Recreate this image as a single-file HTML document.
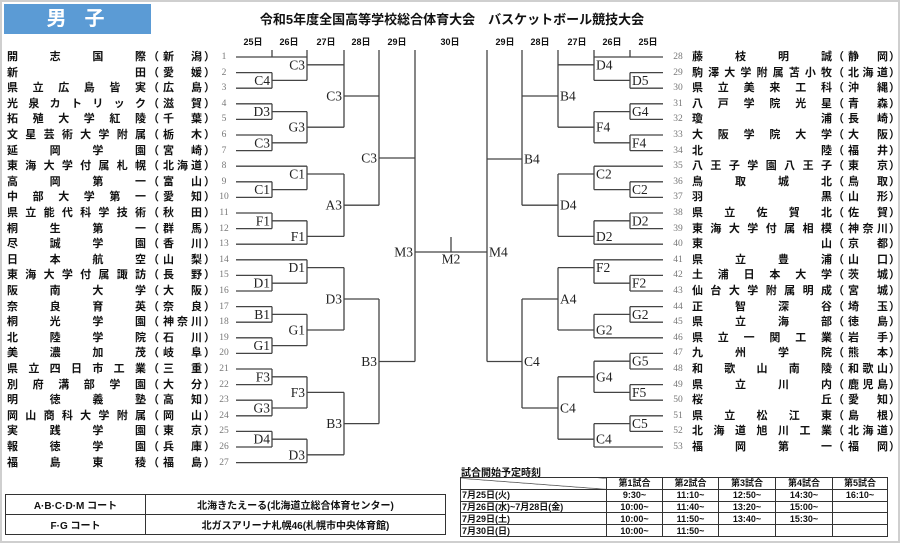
<!DOCTYPE html>
<html><head><meta charset="utf-8"><style>
*{margin:0;padding:0;box-sizing:border-box}
body{width:900px;height:543px;position:relative;background:#fff;overflow:hidden;font-family:"Liberation Sans","Noto Sans CJK JP",sans-serif;color:#111}
.frame{position:absolute;left:0;top:0;width:900px;height:543px;border:2px solid #cfcfcf}
.hd{position:absolute;left:4px;top:4px;width:147px;height:30px;background:#5b9bd5;color:#fff;font-weight:bold;font-size:20px;line-height:30px;text-align:center;letter-spacing:18px;padding-left:14px}
.title{position:absolute;left:252px;top:9px;width:400px;text-align:center;font-weight:bold;font-size:13px}
.d{position:absolute;top:35px;font-size:9px;font-weight:bold;width:30px;text-align:center;margin-left:-15px}
.r{position:absolute;height:14px;line-height:14px;font-size:11px;font-weight:bold;width:240px}
.r span{position:absolute;top:0;white-space:nowrap}
.n{text-align:justify;text-align-last:justify}
.L .n{left:7px;width:139px}.L .o{left:148px}.L .p{left:163px;width:39px}.L .c{left:204px}
.L .num{left:210px;width:28px}
.R .n{left:52px;width:140px}.R .o{left:193px}.R .p{left:208px;width:40px}.R .c{left:249px}
.R .num{left:24px;width:28px}
.num{font-family:"Liberation Serif",serif;font-weight:normal!important;font-size:9.5px;color:#777;text-align:center}
table{border-collapse:collapse;position:absolute}
td{border:1px solid #333;font-weight:bold}
.ct td{height:20px;font-size:10px;text-align:center}
.st td{height:11.8px;font-size:9px;text-align:center;line-height:10px;padding:0}
.st td.f{text-align:left;padding-left:1px}
</style></head><body>
<div class="frame"></div>
<div class="hd">男子</div>
<div class="title">令和5年度全国高等学校総合体育大会　バスケットボール競技大会</div>
<div class="d" style="left:253px">25日</div><div class="d" style="left:289px">26日</div><div class="d" style="left:326px">27日</div><div class="d" style="left:361px">28日</div><div class="d" style="left:397px">29日</div><div class="d" style="left:450px">30日</div>
<div class="d" style="left:505px">29日</div><div class="d" style="left:540px">28日</div><div class="d" style="left:577px">27日</div><div class="d" style="left:612px">26日</div><div class="d" style="left:648px">25日</div>

<svg style="position:absolute;left:0;top:0" width="900" height="543">
<g stroke="#444" stroke-width="1.3" fill="none">
<path d="M236 57H307M236 72.6H272M236 88.2H272M236 103.8H272M236 119.4H272M236 135H272M236 150.6H272M236 166.2H307M236 181.8H272M236 197.4H272M236 213H272M236 228.6H272M236 244.2H307M236 259.8H307M236 275.4H272M236 291H272M236 306.6H272M236 322.2H272M236 337.8H272M236 353.4H272M236 369H272M236 384.6H272M236 400.2H272M236 415.8H272M236 431.4H272M236 447H272M236 462.6H307"/>
<path d="M272 50V57M272 72.6V88.2M272 103.8V119.4M272 135V150.6M272 181.8V197.4M272 213V228.6M272 275.4V291M272 306.6V322.2M272 337.8V353.4M272 369V384.6M272 400.2V415.8M272 431.4V447"/>
<path d="M272 80.4H307M272 111.6H307M272 142.8H307M272 189.6H307M272 220.8H307M272 283.2H307M272 314.4H307M272 345.6H307M272 376.8H307M272 408H307M272 439.2H307"/>
<path d="M307 50V80.4M307 111.6V142.8M307 166.2V189.6M307 220.8V244.2M307 259.8V283.2M307 314.4V345.6M307 376.8V408M307 439.2V462.6"/>
<path d="M307 64.8H344M307 127.2H344M307 174H344M307 236.4H344M307 267.6H344M307 330H344M307 392.4H344M307 454.8H344"/>
<path d="M344 50V127.2M344 174V236.4M344 267.6V330M344 392.4V454.8"/>
<path d="M344 96H379M344 205.2H379M344 299H379M344 423.6H379"/>
<path d="M379 50V205.2M379 299V423.6M379 158H415M379 361.5H415M415 50V361.5"/>
<path d="M415 252H487M451 237V252"/>
<path d="M594 57H663M630 72.6H663M630 88.2H663M630 103.8H663M630 119.4H663M630 135H663M630 150.6H663M594 166.2H663M630 181.8H663M630 197.4H663M630 213H663M630 228.6H663M594 244.2H663M594 259.8H663M630 275.4H663M630 291H663M630 306.6H663M630 322.2H663M594 337.8H663M630 353.4H663M630 369H663M630 384.6H663M630 400.2H663M630 415.8H663M630 431.4H663M594 447H663"/>
<path d="M630 50V57M630 72.6V88.2M630 103.8V119.4M630 135V150.6M630 181.8V197.4M630 213V228.6M630 275.4V291M630 306.6V322.2M630 353.4V369M630 384.6V400.2M630 415.8V431.4"/>
<path d="M594 80.4H630M594 111.6H630M594 142.8H630M594 189.6H630M594 220.8H630M594 283.2H630M594 314.4H630M594 361.2H630M594 392.4H630M594 423.6H630"/>
<path d="M594 50V80.4M594 111.6V142.8M594 166.2V189.6M594 220.8V244.2M594 259.8V283.2M594 314.4V337.8M594 361.2V392.4M594 423.6V447"/>
<path d="M558 64.8H594M558 127.2H594M558 174H594M558 236.4H594M558 267.6H594M558 330H594M558 376.8H594M558 439.2H594"/>
<path d="M558 50V127.2M558 174V236.4M558 267.6V330M558 376.8V439.2"/>
<path d="M522 96H558M522 205.2H558M522 299H558M522 408H558"/>
<path d="M522 50V205.2M522 299V408M487 159H522M487 361.5H522M487 50V361.5"/>
</g>
<g font-family="Liberation Serif,serif" font-size="13.5" fill="#222" dominant-baseline="central" text-anchor="end">
<text x="270" y="80.4">C4</text><text x="270" y="111.6">D3</text><text x="270" y="142.8">C3</text><text x="270" y="189.6">C1</text><text x="270" y="220.8">F1</text><text x="270" y="283.2">D1</text><text x="270" y="314.4">B1</text><text x="270" y="345.6">G1</text><text x="270" y="376.8">F3</text><text x="270" y="408">G3</text><text x="270" y="439.2">D4</text>
<text x="305" y="64.8">C3</text><text x="305" y="127.2">G3</text><text x="305" y="174">C1</text><text x="305" y="236.4">F1</text><text x="305" y="267.6">D1</text><text x="305" y="330">G1</text><text x="305" y="392.4">F3</text><text x="305" y="454.8">D3</text>
<text x="342" y="96">C3</text><text x="342" y="205.2">A3</text><text x="342" y="299">D3</text><text x="342" y="423.6">B3</text>
<text x="377" y="158">C3</text><text x="377" y="361.5">B3</text>
<text x="413" y="252">M3</text>
<text x="451" y="259" text-anchor="middle">M2</text>
</g>
<g font-family="Liberation Serif,serif" font-size="13.5" fill="#222" dominant-baseline="central" text-anchor="start">
<text x="632" y="80.4">D5</text><text x="632" y="111.6">G4</text><text x="632" y="142.8">F4</text><text x="632" y="189.6">C2</text><text x="632" y="220.8">D2</text><text x="632" y="283.2">F2</text><text x="632" y="314.4">G2</text><text x="632" y="361.2">G5</text><text x="632" y="392.4">F5</text><text x="632" y="423.6">C5</text>
<text x="596" y="64.8">D4</text><text x="596" y="127.2">F4</text><text x="596" y="174">C2</text><text x="596" y="236.4">D2</text><text x="596" y="267.6">F2</text><text x="596" y="330">G2</text><text x="596" y="376.8">G4</text><text x="596" y="439.2">C4</text>
<text x="560" y="96">B4</text><text x="560" y="205.2">D4</text><text x="560" y="299">A4</text><text x="560" y="408">C4</text>
<text x="524" y="159">B4</text><text x="524" y="361.5">C4</text>
<text x="489" y="252">M4</text>
</g>
</svg>

<div class="r L" style="left:0;top:50px"><span class="n">開志国際</span><span class="o">（</span><span class="p n">新潟</span><span class="c">）</span><span class="num">1</span></div>
<div class="r L" style="left:0;top:65.6px"><span class="n">新田</span><span class="o">（</span><span class="p n">愛媛</span><span class="c">）</span><span class="num">2</span></div>
<div class="r L" style="left:0;top:81.2px"><span class="n">県立広島皆実</span><span class="o">（</span><span class="p n">広島</span><span class="c">）</span><span class="num">3</span></div>
<div class="r L" style="left:0;top:96.8px"><span class="n">光泉カトリック</span><span class="o">（</span><span class="p n">滋賀</span><span class="c">）</span><span class="num">4</span></div>
<div class="r L" style="left:0;top:112.4px"><span class="n">拓殖大学紅陵</span><span class="o">（</span><span class="p n">千葉</span><span class="c">）</span><span class="num">5</span></div>
<div class="r L" style="left:0;top:128px"><span class="n">文星芸術大学附属</span><span class="o">（</span><span class="p n">栃木</span><span class="c">）</span><span class="num">6</span></div>
<div class="r L" style="left:0;top:143.6px"><span class="n">延岡学園</span><span class="o">（</span><span class="p n">宮崎</span><span class="c">）</span><span class="num">7</span></div>
<div class="r L" style="left:0;top:159.2px"><span class="n">東海大学付属札幌</span><span class="o">（</span><span class="p n">北海道</span><span class="c">）</span><span class="num">8</span></div>
<div class="r L" style="left:0;top:174.8px"><span class="n">高岡第一</span><span class="o">（</span><span class="p n">富山</span><span class="c">）</span><span class="num">9</span></div>
<div class="r L" style="left:0;top:190.4px"><span class="n">中部大学第一</span><span class="o">（</span><span class="p n">愛知</span><span class="c">）</span><span class="num">10</span></div>
<div class="r L" style="left:0;top:206px"><span class="n">県立能代科学技術</span><span class="o">（</span><span class="p n">秋田</span><span class="c">）</span><span class="num">11</span></div>
<div class="r L" style="left:0;top:221.6px"><span class="n">桐生第一</span><span class="o">（</span><span class="p n">群馬</span><span class="c">）</span><span class="num">12</span></div>
<div class="r L" style="left:0;top:237.2px"><span class="n">尽誠学園</span><span class="o">（</span><span class="p n">香川</span><span class="c">）</span><span class="num">13</span></div>
<div class="r L" style="left:0;top:252.8px"><span class="n">日本航空</span><span class="o">（</span><span class="p n">山梨</span><span class="c">）</span><span class="num">14</span></div>
<div class="r L" style="left:0;top:268.4px"><span class="n">東海大学付属諏訪</span><span class="o">（</span><span class="p n">長野</span><span class="c">）</span><span class="num">15</span></div>
<div class="r L" style="left:0;top:284px"><span class="n">阪南大学</span><span class="o">（</span><span class="p n">大阪</span><span class="c">）</span><span class="num">16</span></div>
<div class="r L" style="left:0;top:299.6px"><span class="n">奈良育英</span><span class="o">（</span><span class="p n">奈良</span><span class="c">）</span><span class="num">17</span></div>
<div class="r L" style="left:0;top:315.2px"><span class="n">桐光学園</span><span class="o">（</span><span class="p n">神奈川</span><span class="c">）</span><span class="num">18</span></div>
<div class="r L" style="left:0;top:330.8px"><span class="n">北陸学院</span><span class="o">（</span><span class="p n">石川</span><span class="c">）</span><span class="num">19</span></div>
<div class="r L" style="left:0;top:346.4px"><span class="n">美濃加茂</span><span class="o">（</span><span class="p n">岐阜</span><span class="c">）</span><span class="num">20</span></div>
<div class="r L" style="left:0;top:362px"><span class="n">県立四日市工業</span><span class="o">（</span><span class="p n">三重</span><span class="c">）</span><span class="num">21</span></div>
<div class="r L" style="left:0;top:377.6px"><span class="n">別府溝部学園</span><span class="o">（</span><span class="p n">大分</span><span class="c">）</span><span class="num">22</span></div>
<div class="r L" style="left:0;top:393.2px"><span class="n">明徳義塾</span><span class="o">（</span><span class="p n">高知</span><span class="c">）</span><span class="num">23</span></div>
<div class="r L" style="left:0;top:408.8px"><span class="n">岡山商科大学附属</span><span class="o">（</span><span class="p n">岡山</span><span class="c">）</span><span class="num">24</span></div>
<div class="r L" style="left:0;top:424.4px"><span class="n">実践学園</span><span class="o">（</span><span class="p n">東京</span><span class="c">）</span><span class="num">25</span></div>
<div class="r L" style="left:0;top:440px"><span class="n">報徳学園</span><span class="o">（</span><span class="p n">兵庫</span><span class="c">）</span><span class="num">26</span></div>
<div class="r L" style="left:0;top:455.6px"><span class="n">福島東稜</span><span class="o">（</span><span class="p n">福島</span><span class="c">）</span><span class="num">27</span></div>

<div class="r R" style="left:640px;top:50px"><span class="num">28</span><span class="n">藤枝明誠</span><span class="o">（</span><span class="p n">静岡</span><span class="c">）</span></div>
<div class="r R" style="left:640px;top:65.6px"><span class="num">29</span><span class="n">駒澤大学附属苫小牧</span><span class="o">（</span><span class="p n">北海道</span><span class="c">）</span></div>
<div class="r R" style="left:640px;top:81.2px"><span class="num">30</span><span class="n">県立美来工科</span><span class="o">（</span><span class="p n">沖縄</span><span class="c">）</span></div>
<div class="r R" style="left:640px;top:96.8px"><span class="num">31</span><span class="n">八戸学院光星</span><span class="o">（</span><span class="p n">青森</span><span class="c">）</span></div>
<div class="r R" style="left:640px;top:112.4px"><span class="num">32</span><span class="n">瓊浦</span><span class="o">（</span><span class="p n">長崎</span><span class="c">）</span></div>
<div class="r R" style="left:640px;top:128px"><span class="num">33</span><span class="n">大阪学院大学</span><span class="o">（</span><span class="p n">大阪</span><span class="c">）</span></div>
<div class="r R" style="left:640px;top:143.6px"><span class="num">34</span><span class="n">北陸</span><span class="o">（</span><span class="p n">福井</span><span class="c">）</span></div>
<div class="r R" style="left:640px;top:159.2px"><span class="num">35</span><span class="n">八王子学園八王子</span><span class="o">（</span><span class="p n">東京</span><span class="c">）</span></div>
<div class="r R" style="left:640px;top:174.8px"><span class="num">36</span><span class="n">鳥取城北</span><span class="o">（</span><span class="p n">鳥取</span><span class="c">）</span></div>
<div class="r R" style="left:640px;top:190.4px"><span class="num">37</span><span class="n">羽黒</span><span class="o">（</span><span class="p n">山形</span><span class="c">）</span></div>
<div class="r R" style="left:640px;top:206px"><span class="num">38</span><span class="n">県立佐賀北</span><span class="o">（</span><span class="p n">佐賀</span><span class="c">）</span></div>
<div class="r R" style="left:640px;top:221.6px"><span class="num">39</span><span class="n">東海大学付属相模</span><span class="o">（</span><span class="p n">神奈川</span><span class="c">）</span></div>
<div class="r R" style="left:640px;top:237.2px"><span class="num">40</span><span class="n">東山</span><span class="o">（</span><span class="p n">京都</span><span class="c">）</span></div>
<div class="r R" style="left:640px;top:252.8px"><span class="num">41</span><span class="n">県立豊浦</span><span class="o">（</span><span class="p n">山口</span><span class="c">）</span></div>
<div class="r R" style="left:640px;top:268.4px"><span class="num">42</span><span class="n">土浦日本大学</span><span class="o">（</span><span class="p n">茨城</span><span class="c">）</span></div>
<div class="r R" style="left:640px;top:284px"><span class="num">43</span><span class="n">仙台大学附属明成</span><span class="o">（</span><span class="p n">宮城</span><span class="c">）</span></div>
<div class="r R" style="left:640px;top:299.6px"><span class="num">44</span><span class="n">正智深谷</span><span class="o">（</span><span class="p n">埼玉</span><span class="c">）</span></div>
<div class="r R" style="left:640px;top:315.2px"><span class="num">45</span><span class="n">県立海部</span><span class="o">（</span><span class="p n">徳島</span><span class="c">）</span></div>
<div class="r R" style="left:640px;top:330.8px"><span class="num">46</span><span class="n">県立一関工業</span><span class="o">（</span><span class="p n">岩手</span><span class="c">）</span></div>
<div class="r R" style="left:640px;top:346.4px"><span class="num">47</span><span class="n">九州学院</span><span class="o">（</span><span class="p n">熊本</span><span class="c">）</span></div>
<div class="r R" style="left:640px;top:362px"><span class="num">48</span><span class="n">和歌山南陵</span><span class="o">（</span><span class="p n">和歌山</span><span class="c">）</span></div>
<div class="r R" style="left:640px;top:377.6px"><span class="num">49</span><span class="n">県立川内</span><span class="o">（</span><span class="p n">鹿児島</span><span class="c">）</span></div>
<div class="r R" style="left:640px;top:393.2px"><span class="num">50</span><span class="n">桜丘</span><span class="o">（</span><span class="p n">愛知</span><span class="c">）</span></div>
<div class="r R" style="left:640px;top:408.8px"><span class="num">51</span><span class="n">県立松江東</span><span class="o">（</span><span class="p n">島根</span><span class="c">）</span></div>
<div class="r R" style="left:640px;top:424.4px"><span class="num">52</span><span class="n">北海道旭川工業</span><span class="o">（</span><span class="p n">北海道</span><span class="c">）</span></div>
<div class="r R" style="left:640px;top:440px"><span class="num">53</span><span class="n">福岡第一</span><span class="o">（</span><span class="p n">福岡</span><span class="c">）</span></div>

<table class="ct" style="left:5px;top:494px;width:441px">
<tr><td style="width:140px">A·B·C·D·M コート</td><td>北海きたえーる(北海道立総合体育センター)</td></tr>
<tr><td>F·G コート</td><td>北ガスアリーナ札幌46(札幌市中央体育館)</td></tr>
</table>

<div style="position:absolute;left:461px;top:464px;font-size:10px;font-weight:bold;text-decoration:underline">試合開始予定時刻</div>
<table class="st" style="left:460px;top:477px;width:428px">
<tr><td class="f" style="width:146px;background:linear-gradient(to top right,transparent 48%,#333 50%,transparent 54%)"></td><td style="width:56px">第1試合</td><td style="width:56px">第2試合</td><td style="width:57px">第3試合</td><td style="width:57px">第4試合</td><td>第5試合</td></tr>
<tr><td class="f">7月25日(火)</td><td>9:30~</td><td>11:10~</td><td>12:50~</td><td>14:30~</td><td>16:10~</td></tr>
<tr><td class="f">7月26日(水)~7月28日(金)</td><td>10:00~</td><td>11:40~</td><td>13:20~</td><td>15:00~</td><td></td></tr>
<tr><td class="f">7月29日(土)</td><td>10:00~</td><td>11:50~</td><td>13:40~</td><td>15:30~</td><td></td></tr>
<tr><td class="f">7月30日(日)</td><td>10:00~</td><td>11:50~</td><td></td><td></td><td></td></tr>
</table>
</body></html>
